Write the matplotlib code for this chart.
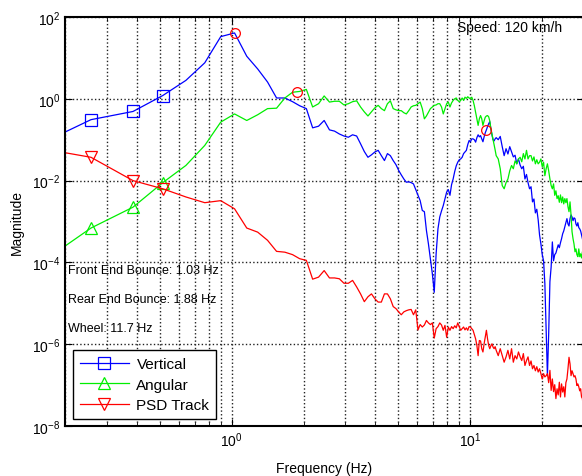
import numpy as np
import matplotlib
matplotlib.use('Agg')
import matplotlib.pyplot as plt
from matplotlib.ticker import FixedLocator, NullLocator, LogLocator, NullFormatter

plt.rcParams['font.family'] = ['Liberation Sans', 'DejaVu Sans']
plt.rcParams['mathtext.default'] = 'regular'

# frequency grid (bin spacing of the spectrum)
df = 0.1285
bin_index = list(range(1, 101)) + list(range(102, 233, 2))
freq = np.array(bin_index) * df

# log10 magnitudes
vertical_log = [
    -1.35, -0.51, -0.31, 0.08, 0.45, 0.88, 1.52, 1.61, 1.04, 0.73,
    0.41, 0.02, 0.02, -0.07, -0.17, -0.24, -0.71, -0.67, -0.53, -0.76,
    -0.79, -0.86, -0.91, -0.94, -0.88, -0.91, -1.10, -1.29, -1.43, -1.37,
    -1.30, -1.26, -1.39, -1.51, -1.34, -1.39, -1.51, -1.61, -1.75, -1.86,
    -1.96, -2.04, -2.03, -2.05, -2.08, -2.22, -2.36, -2.49, -2.73, -2.76,
    -3.22, -3.55, -3.91, -4.28, -4.73, -3.79, -3.18, -2.89, -2.74, -2.61,
    -2.44, -2.28, -2.22, -2.36, -2.10, -1.96, -1.78, -1.64, -1.55, -1.49,
    -1.47, -1.43, -1.34, -1.30, -1.26, -1.12, -1.02, -1.05, -0.98, -0.98,
    -1.00, -1.06, -0.95, -0.88, -0.93, -0.90, -0.98, -1.05, -0.93, -0.83,
    -0.76, -0.68, -0.61, -0.56, -0.73, -0.88, -1.00, -1.03, -0.98, -0.95,
    -1.00, -0.92, -1.17, -1.39, -1.22, -1.35, -1.17, -1.30, -1.42, -1.38,
    -1.59, -1.47, -1.62, -1.71, -1.65, -1.96, -1.85, -2.05, -2.20, -2.15,
    -2.52, -2.45, -2.79, -2.70, -2.96, -3.33, -3.55, -3.81, -3.96, -4.52,
    -5.62, -6.77, -5.75, -4.47, -4.11, -3.50, -3.96, -3.81, -3.77, -3.67,
    -3.57, -3.64, -3.52, -3.42, -3.30, -3.23, -3.13, -3.03, -2.93, -3.06,
    -3.11, -2.93, -2.84, -2.89, -2.98, -2.91, -2.93, -3.06, -3.11, -3.03,
    -3.15, -3.18, -3.23, -3.33, -3.42, -3.52,
]
angular_log = [
    -4.38, -3.16, -2.65, -2.05, -1.63, -1.14, -0.57, -0.37, -0.53, -0.39,
    -0.24, -0.23, 0.02, 0.16, 0.18, 0.23, -0.20, -0.12, 0.07, -0.08,
    -0.06, -0.06, -0.15, -0.12, -0.07, -0.05, -0.20, -0.32, -0.42, -0.32,
    -0.22, -0.16, -0.24, -0.29, -0.12, -0.05, -0.24, -0.27, -0.29, -0.29,
    -0.34, -0.37, -0.29, -0.20, -0.17, -0.16, -0.12, -0.08, -0.24, -0.49,
    -0.42, -0.33, -0.24, -0.20, -0.16, -0.15, -0.12, -0.12, -0.20, -0.37,
    -0.24, -0.12, -0.08, -0.20, -0.10, -0.04, 0.00, 0.02, -0.04, -0.07,
    -0.04, 0.02, -0.04, 0.04, 0.01, 0.05, 0.02, 0.00, 0.04, -0.04,
    -0.17, -0.33, -0.49, -0.65, -0.49, -0.41, -0.49, -0.65, -0.54, -0.45,
    -0.42, -0.41, -0.44, -0.54, -0.73, -0.86, -0.98, -1.12, -1.25, -1.39,
    -1.47, -1.71, -2.12, -2.20, -2.05, -1.96, -1.76, -1.63, -1.71, -1.52,
    -1.59, -1.47, -1.43, -1.54, -1.34, -1.47, -1.26, -1.47, -1.39, -1.39,
    -1.52, -1.42, -1.59, -1.49, -1.59, -1.55, -1.47, -1.66, -1.55, -1.88,
    -1.71, -1.59, -1.76, -1.96, -2.12, -2.20, -2.08, -2.36, -2.25, -2.44,
    -2.37, -2.53, -2.35, -2.54, -2.40, -2.57, -2.44, -2.54, -2.44, -2.64,
    -2.76, -2.52, -2.84, -3.25, -3.42, -3.55, -3.74, -3.67, -3.81, -3.86,
    -3.67, -3.86, -3.79, -3.89, -3.74, -3.86,
]
track_log = [
    -1.12, -1.43, -2.00, -2.20, -2.40, -2.54, -2.49, -2.69, -3.16, -3.26,
    -3.46, -3.73, -3.75, -3.81, -3.91, -3.95, -4.41, -4.36, -4.20, -4.38,
    -4.38, -4.40, -4.51, -4.51, -4.44, -4.60, -4.77, -4.96, -4.84, -4.77,
    -4.89, -4.97, -4.97, -4.77, -4.77, -4.89, -5.08, -5.13, -5.21, -5.28,
    -5.21, -5.18, -5.16, -5.15, -5.28, -5.16, -5.65, -5.52, -5.58, -5.53,
    -5.42, -5.48, -5.52, -5.48, -5.85, -5.62, -5.57, -5.48, -5.53, -5.66,
    -5.54, -5.83, -5.58, -5.66, -5.57, -5.62, -5.55, -5.60, -5.48, -5.57,
    -5.66, -5.62, -5.58, -5.65, -5.60, -5.66, -5.57, -5.58, -5.62, -5.66,
    -5.77, -5.87, -6.03, -6.28, -5.91, -5.92, -6.11, -6.19, -5.99, -5.82,
    -5.66, -5.87, -6.03, -6.11, -6.04, -5.99, -6.07, -6.11, -6.06, -6.15,
    -6.28, -6.11, -6.28, -6.44, -6.31, -6.15, -6.36, -6.11, -6.44, -6.28,
    -6.36, -6.19, -6.31, -6.40, -6.23, -6.52, -6.40, -6.31, -6.52, -6.41,
    -6.60, -6.52, -6.65, -6.55, -6.68, -6.60, -6.72, -6.85, -6.72, -6.80,
    -6.77, -6.72, -6.94, -6.64, -7.13, -6.85, -7.16, -6.99, -7.33, -7.09,
    -7.24, -6.93, -7.29, -6.97, -7.17, -7.04, -7.29, -6.94, -6.85, -6.60,
    -6.32, -6.48, -6.77, -6.65, -6.72, -6.80, -6.77, -6.85, -7.01, -6.97,
    -7.04, -7.14, -7.09, -7.29, -7.33, -7.63,
]
peak_freqs = [1.03, 1.88, 11.7]
peak_mags = [40.9, 1.5, 0.175]

series_names = ['Vertical', 'Angular', 'PSD Track']
series_colors = ['#0000ff', '#00ee00', '#ff0000']
series_markers = ['s', '^', 'v']

fig = plt.figure(figsize=(5.82, 4.77), dpi=100)
ax = fig.add_axes([65/582, 50/477, 519/582, 409/477])

for vals, name, col, mk in zip([vertical_log, angular_log, track_log],
                               series_names, series_colors, series_markers):
    ax.plot(freq, 10.0 ** np.array(vals), color=col, lw=0.9, marker=mk,
            markevery=[1, 2, 3], ms=8, mfc='none', mec=col, mew=0.9,
            label=name)

ax.plot(peak_freqs, peak_mags, linestyle='none', marker='o', ms=7,
        mfc='none', mec='#ff0000', mew=0.9)

ax.set_xscale('log')
ax.set_yscale('log')
ax.set_xlim(0.2, 30)
ax.set_ylim(1e-8, 1e2)

ax.yaxis.set_major_locator(FixedLocator([1e-8, 1e-6, 1e-4, 1e-2, 1e0, 1e2]))
ax.yaxis.set_minor_locator(NullLocator())
ax.xaxis.set_minor_locator(LogLocator(base=10, subs=np.arange(2, 10)))
ax.xaxis.set_minor_formatter(NullFormatter())

ax.grid(True, which='major', axis='both', color='#222222', linestyle=':', lw=1.0)
ax.grid(True, which='minor', axis='x', color='#222222', linestyle=':', lw=1.0)

ax.tick_params(which='both', direction='in', top=True, right=True,
               labelsize=10, colors='k')
ax.tick_params(which='major', length=5)
ax.tick_params(which='minor', length=3)
for s in ax.spines.values():
    s.set_linewidth(1.5)

ax.set_xlabel('Frequency (Hz)', fontsize=10, labelpad=8)
ax.set_ylabel('Magnitude', fontsize=10, labelpad=6)

ax.text(0.756, 0.976, 'Speed: 120 km/h', transform=ax.transAxes,
        fontsize=10, va='center', ha='left')
ax.text(0.006, 0.381, 'Front End Bounce: 1.03 Hz', transform=ax.transAxes,
        fontsize=9, va='center', ha='left')
ax.text(0.006, 0.311, 'Rear End Bounce: 1.88 Hz', transform=ax.transAxes,
        fontsize=9, va='center', ha='left')
ax.text(0.006, 0.240, 'Wheel: 11.7 Hz', transform=ax.transAxes,
        fontsize=9, va='center', ha='left')

leg = ax.legend(loc='lower left', bbox_to_anchor=(0.0155, 0.017),
                borderaxespad=0, fontsize=11, handlelength=3.2,
                fancybox=False, framealpha=1, edgecolor='k',
                borderpad=0.45, labelspacing=0.42, handletextpad=0.5)
leg.get_frame().set_linewidth(1.0)

fig.savefig('out.png', dpi=100)
